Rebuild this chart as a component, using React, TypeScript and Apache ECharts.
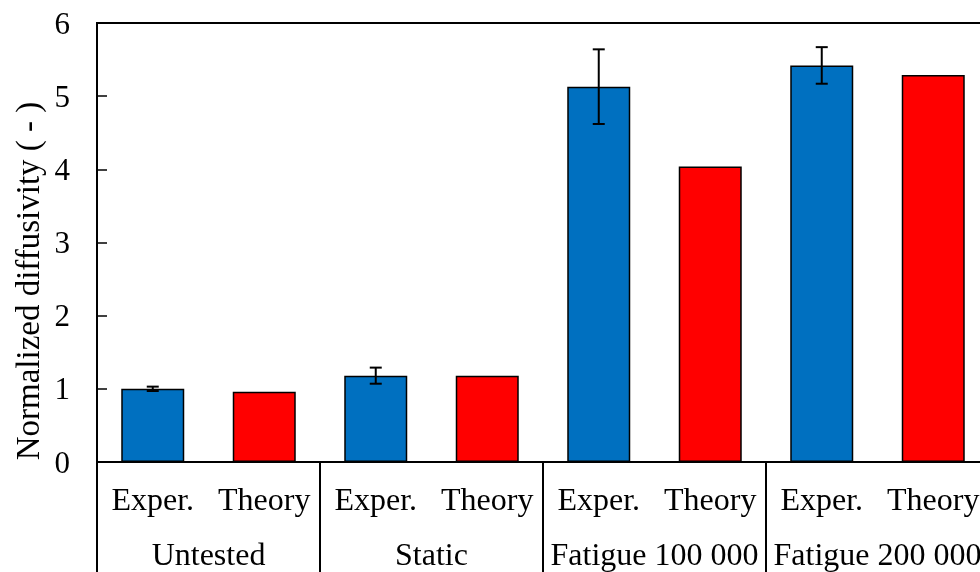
import React, { useEffect, useRef } from "react";
import * as echarts from "echarts";

const groups = ["Untested", "Static", "Fatigue 100 000", "Fatigue 200 000"];
const subLabels = ["Exper.", "Theory"];
const experValues = [1.0, 1.18, 5.13, 5.42];
const experErrors = [0.03, 0.11, 0.51, 0.25];
const theoryValues = [0.96, 1.18, 4.04, 5.29];
const yTicks = [0, 1, 2, 3, 4, 5, 6];

const FONT = "'Liberation Serif', 'Times New Roman', serif";
const BLUE = "#0070C0";
const RED = "#FF0000";

export default function App() {
  const ref = useRef<HTMLDivElement>(null);
  useEffect(() => {
    if (!ref.current) return;
    const chart = echarts.init(ref.current, null, { renderer: "svg" });

    const cats: string[] = [];
    const barData: any[] = [];
    const errData: number[][] = [];
    groups.forEach((g, i) => {
      cats.push(subLabels[0]);
      cats.push(subLabels[1]);
      barData.push({ value: experValues[i], itemStyle: { color: BLUE } });
      barData.push({ value: theoryValues[i], itemStyle: { color: RED } });
      errData.push([i * 2, experValues[i] - experErrors[i], experValues[i] + experErrors[i]]);
    });

    chart.setOption({
      animation: false,
      grid: {
        left: 97,
        top: 23,
        width: 892,
        height: 439,
        show: true,
        borderColor: "#000",
        borderWidth: 2,
        backgroundColor: "transparent",
      },
      xAxis: [
        {
          type: "category",
          data: cats,
          position: "bottom",
          axisLine: { show: true, lineStyle: { color: "#000", width: 2 } },
          axisTick: { show: false },
          axisLabel: {
            interval: 0,
            margin: 21,
            color: "#000",
            fontFamily: FONT,
            fontSize: 32,
          },
        },
        {
          type: "category",
          data: groups,
          position: "bottom",
          axisLine: { show: false },
          axisTick: {
            show: true,
            interval: 0,
            length: 112,
            lineStyle: { color: "#000", width: 2 },
          },
          axisLabel: {
            interval: 0,
            margin: 76,
            color: "#000",
            fontFamily: FONT,
            fontSize: 32,
          },
        },
      ],
      yAxis: {
        type: "value",
        min: 0,
        max: 6,
        interval: 1,
        axisLine: { show: true, lineStyle: { color: "#000", width: 2 } },
        axisTick: { show: true, inside: true, length: 10, lineStyle: { color: "#000", width: 1.5 } },
        splitLine: { show: false },
        axisLabel: {
          margin: 27,
          color: "#000",
          fontFamily: FONT,
          fontSize: 31,
          formatter: (v: number) => (yTicks.includes(v) ? String(v) : ""),
        },
      },
      graphic: [
        {
          type: "text",
          x: 28,
          y: 281,
          rotation: Math.PI / 2,
          style: {
            text: "Normalized diffusivity ( - )",
            fontFamily: FONT,
            fontSize: 33,
            fill: "#000",
            align: "center",
            verticalAlign: "middle",
          },
        },
      ],
      series: [
        {
          type: "bar",
          xAxisIndex: 0,
          data: barData,
          barWidth: 63,
          itemStyle: { borderColor: "#000", borderWidth: 1.5 },
        },
        {
          type: "custom",
          xAxisIndex: 0,
          data: errData,
          renderItem: (params: any, api: any) => {
            const x = api.value(0);
            const lo = api.coord([x, api.value(1)]);
            const hi = api.coord([x, api.value(2)]);
            const hw = 6;
            const style = { stroke: "#000", lineWidth: 2, fill: "none" };
            return {
              type: "group",
              children: [
                { type: "line", shape: { x1: lo[0], y1: lo[1], x2: hi[0], y2: hi[1] }, style },
                { type: "line", shape: { x1: hi[0] - hw, y1: hi[1], x2: hi[0] + hw, y2: hi[1] }, style },
                { type: "line", shape: { x1: lo[0] - hw, y1: lo[1], x2: lo[0] + hw, y2: lo[1] }, style },
              ],
            };
          },
          z: 10,
        },
      ],
    });
    return () => chart.dispose();
  }, []);
  return (
    <div style={{ position: "fixed", left: 0, top: 0, width: 980, height: 572, overflow: "hidden" }}>
      <div ref={ref} style={{ width: 1010, height: 572 }} />
    </div>
  );
}
